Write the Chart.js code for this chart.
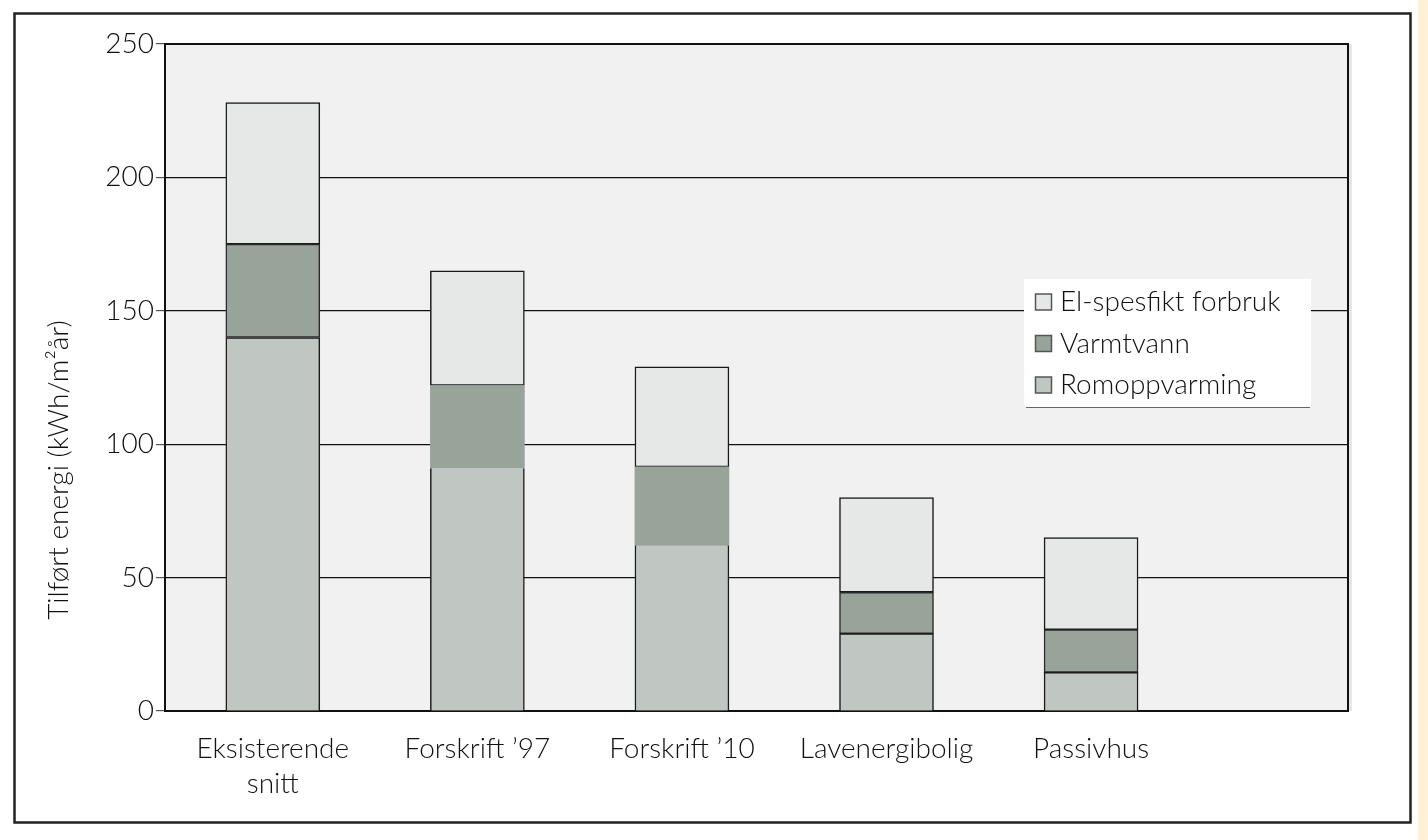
<!DOCTYPE html>
<html>
<head>
<meta charset="utf-8">
<title>Tilført energi</title>
<script src="https://cdn.jsdelivr.net/npm/chart.js@4"></script>
<style>
    html, body { margin: 0; padding: 0; background: #ffffff; }
    canvas { display: block; }
</style>
</head>
<body>
<canvas id="energyChart" width="1428" height="840"></canvas>
<script>
/**
 * Tilført energi per bygningstype
 */

// Categories (bar positions 0..4 on the x axis)
const categories = [['Eksisterende', 'snitt'], 'Forskrift \u201997', 'Forskrift \u201910', 'Lavenergibolig', 'Passivhus'];

// Series values (kWh/m²år)
const romoppvarming = [140, 91, 62, 29, 14.5];
const varmtvann = [35, 31, 29.5, 15.5, 16];
const elSpesifikt = [53, 43, 37.5, 35.5, 34.5];

// Y axis ticks
const yTicks = [0, 50, 100, 150, 200, 250];

const FONT_FAMILY = 'Lato, "Open Sans", sans-serif';
const TEXT_COLOR = '#111111';

/**
 * Helper to turn a list of values into {x, y} points
 */
function toPoints(values) {
    return values.map((value, index) => ({ x: index, y: value }));
}

/**
 * Page frame, beige edge and plot background
 */
const backgroundPlugin = {
    id: 'background',
    beforeDraw(chart) {
        const ctx = chart.ctx;
        const area = chart.chartArea;
        ctx.save();
        // beige strip at the right edge
        ctx.fillStyle = '#fff0d8';
        ctx.fillRect(1418, 0, 10, 840);
        // outer frame
        ctx.strokeStyle = '#222222';
        ctx.lineWidth = 2.5;
        ctx.strokeRect(14.5, 13.5, 1396, 809);
        // soft shadow right of plot area
        ctx.fillStyle = '#e6e6e6';
        ctx.fillRect(area.right, area.top, 4, area.bottom - area.top);
        // plot background
        ctx.fillStyle = '#f1f1f1';
        ctx.fillRect(area.left, area.top, area.right - area.left, area.bottom - area.top);
        ctx.restore();
    },
    afterDatasetsDraw(chart) {
        const ctx = chart.ctx;
        const area = chart.chartArea;
        ctx.save();
        ctx.strokeStyle = '#111111';
        ctx.lineWidth = 2;
        ctx.beginPath();
        ctx.moveTo(area.left, area.top);
        ctx.lineTo(area.right, area.top);
        ctx.lineTo(area.right, area.bottom);
        ctx.stroke();
        ctx.restore();
    }
};

/**
 * Rotated y axis title, placed lower than the axis middle like the original
 */
const axisTitlePlugin = {
    id: 'axisTitle',
    afterDraw(chart) {
        const ctx = chart.ctx;
        ctx.save();
        ctx.translate(59, 470);
        ctx.rotate(-Math.PI / 2);
        ctx.font = '300 28px ' + FONT_FAMILY;
        ctx.fillStyle = TEXT_COLOR;
        ctx.textAlign = 'center';
        ctx.textBaseline = 'middle';
        ctx.fillText('Tilført energi (kWh/m\u00b2år)', 0, 0);
        ctx.restore();
    }
};

/**
 * Legend box drawn inside the plot area
 */
const legendBoxPlugin = {
    id: 'legendBox',
    afterDraw(chart) {
        const ctx = chart.ctx;
        const box = { x: 1024, y: 279, w: 287, h: 128 };
        ctx.save();
        ctx.fillStyle = '#ffffff';
        ctx.fillRect(box.x, box.y, box.w, box.h);
        ctx.strokeStyle = '#666666';
        ctx.lineWidth = 1;
        ctx.beginPath();
        ctx.moveTo(box.x + 2, box.y + box.h + 0.5);
        ctx.lineTo(box.x + box.w - 1, box.y + box.h + 0.5);
        ctx.stroke();

        // legend lists the top segment first
        const items = chart.data.datasets.slice().reverse();
        ctx.font = '300 28px ' + FONT_FAMILY;
        ctx.textBaseline = 'middle';
        items.forEach((dataset, index) => {
            const rowY = 302 + index * 41.5;
            ctx.fillStyle = dataset.backgroundColor;
            ctx.fillRect(1035.5, rowY - 8, 16, 16);
            ctx.strokeStyle = '#555555';
            ctx.lineWidth = 1.5;
            ctx.strokeRect(1035.5, rowY - 8, 16, 16);
            ctx.fillStyle = TEXT_COLOR;
            ctx.fillText(dataset.label, 1060, rowY);
        });
        ctx.restore();
    }
};

/**
 * Set up the stacked bar chart
 */
function setupEnergyChart() {
    const ctx = document.getElementById('energyChart').getContext('2d');

    new Chart(ctx, {
        type: 'bar',
        data: {
            datasets: [
                {
                    label: 'Romoppvarming',
                    data: toPoints(romoppvarming),
                    backgroundColor: '#c0c6c2',
                    borderColor: '#1a1a1a',
                    borderWidth: [
                        { top: 1.5, left: 1.5, right: 1.5, bottom: 0 },
                        { top: 0, left: 1.5, right: 1.5, bottom: 0 },
                        { top: 0, left: 1.5, right: 1.5, bottom: 0 },
                        { top: 1.5, left: 1.5, right: 1.5, bottom: 0 },
                        { top: 1.5, left: 1.5, right: 1.5, bottom: 0 }
                    ],
                    borderSkipped: false,
                    barThickness: 94
                },
                {
                    label: 'Varmtvann',
                    data: toPoints(varmtvann),
                    backgroundColor: '#98a39a',
                    borderColor: '#2a2a2a',
                    borderWidth: [1.5, 0, 0, 1.5, 1.5],
                    borderSkipped: false,
                    barThickness: 94
                },
                {
                    label: 'El-spesfikt forbruk',
                    data: toPoints(elSpesifikt),
                    backgroundColor: '#e6e8e7',
                    borderColor: '#1a1a1a',
                    borderWidth: 1.5,
                    borderSkipped: false,
                    barThickness: 94
                }
            ]
        },
        options: {
            responsive: false,
            animation: false,
            layout: {
                padding: { top: 44, right: 80, bottom: 0, left: 0 }
            },
            plugins: {
                legend: { display: false },
                tooltip: { enabled: false }
            },
            scales: {
                x: {
                    type: 'linear',
                    stacked: true,
                    offset: false,
                    min: -0.527,
                    max: 5.256,
                    afterFit: function(scale) {
                        scale.height = 129;
                    },
                    afterBuildTicks: function(scale) {
                        scale.ticks = categories.map((label, index) => ({ value: index }));
                    },
                    grid: { display: false, drawTicks: false, offset: false },
                    border: { display: true, color: '#111111', width: 2 },
                    ticks: {
                        autoSkip: false,
                        maxRotation: 0,
                        padding: 20,
                        color: TEXT_COLOR,
                        font: { family: FONT_FAMILY, size: 28, weight: '300', lineHeight: 1.25 },
                        callback: function(value) {
                            return categories[value] || '';
                        }
                    }
                },
                y: {
                    stacked: true,
                    min: 0,
                    max: 250,
                    afterFit: function(scale) {
                        scale.width = 165;
                    },
                    afterBuildTicks: function(scale) {
                        scale.ticks = yTicks.map(value => ({ value: value }));
                    },
                    grid: {
                        color: '#111111',
                        lineWidth: 1.2,
                        tickColor: '#555555',
                        tickLength: 9
                    },
                    border: { display: true, color: '#111111', width: 2 },
                    ticks: {
                        padding: 2,
                        color: TEXT_COLOR,
                        font: { family: FONT_FAMILY, size: 28, weight: '300' }
                    }
                }
            }
        },
        plugins: [backgroundPlugin, axisTitlePlugin, legendBoxPlugin]
    });
}

setupEnergyChart();
</script>
</body>
</html>
